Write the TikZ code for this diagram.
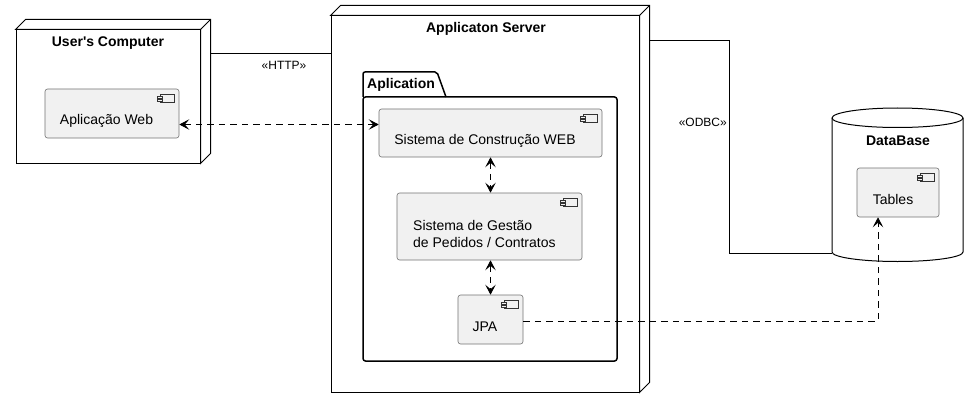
\documentclass[tikz,border=0pt]{standalone}
\usepackage{fontspec}
\setmainfont{Liberation Sans}
\usetikzlibrary{arrows.meta}
\definecolor{compfill}{HTML}{F1F1F1}
\tikzset{x=1pt,y=-1pt,
 comp/.style={draw=black!55, fill=compfill, line width=0.6pt, rounded corners=2.5pt, inner sep=0},
 nodebox/.style={draw, line width=1pt, fill=white, inner sep=0},
 ttl/.style={font=\fontsize{14}{16}\selectfont\bfseries, inner sep=0},
 txt/.style={font=\fontsize{14}{17}\selectfont, inner sep=0},
 ster/.style={font=\fontsize{12}{14}\selectfont, inner sep=0},
 dep/.style={line width=0.9pt, dash pattern=on 6.5pt off 5pt},
 link/.style={line width=1pt},
 icon/.style={draw=black!80, fill=compfill, line width=0.6pt}
}
\newcommand\tipx{Stealth[length=10pt,width=10.5pt,inset=4.5pt]}
\newcommand\compicon[1]{%
  \draw[icon] ([xshift=-19.5pt,yshift=-5.5pt]#1.north east) rectangle ++(14pt,-8.5pt);
  \draw[icon] ([xshift=-22pt,yshift=-7.5pt]#1.north east) rectangle ++(4.5pt,-2pt);
  \draw[icon] ([xshift=-22pt,yshift=-10.5pt]#1.north east) rectangle ++(4.5pt,-2pt);
}
\newcommand\threed[1]{%
  \draw[line width=1pt, fill=white] (#1.north west) -- ++(10pt,10pt) -| ([xshift=10pt,yshift=10pt]#1.south east) -- (#1.south east) -- (#1.north east) -- cycle;
  \draw[line width=1pt] (#1.north east) -- ++(10pt,10pt);
}
\begin{document}
\begin{tikzpicture}
\useasboundingbox (0,0) rectangle (979,409);
\fill[white] (0,0) rectangle (979,409);

% User's computer
\node[nodebox, minimum width=184pt, minimum height=133pt] (uc) at (108,96.5) {};
\threed{uc}
\node[ttl] (uct) at (108,43) {User\textquotesingle s Computer};
\node[comp, minimum width=134pt, minimum height=49pt] (aw) at (112,113.5) {};
\compicon{aw}
\node[txt] (awt) at (106.5,121) {Aplicação Web};

% Application server
\node[nodebox, minimum width=308pt, minimum height=376pt] (srv) at (485,204) {};
\threed{srv}
\node[ttl] (srvt) at (486,29) {Applicaton Server};

% Package
\draw[line width=1.5pt, fill=white, rounded corners=2pt] (363,97) -- (363,72) -- (437,72) -- (446,97);
\node[draw, line width=1.5pt, rounded corners=2.5pt, minimum width=254pt, minimum height=264pt, inner sep=0] (pkg) at (490,229) {};
\node[ttl, anchor=west] (pkgt) at (367,85) {Aplication};

\node[comp, minimum width=223pt, minimum height=48pt] (web) at (490.5,133) {};
\compicon{web}
\node[txt] (webt) at (485,141) {Sistema de Construção WEB};

\node[comp, minimum width=185pt, minimum height=67pt] (ges) at (489.5,226.5) {};
\compicon{ges}
\node[txt, anchor=west, align=left] (gest) at (413,233.5) {Sistema de Gestão\\de Pedidos / Contratos};

\node[comp, minimum width=65pt, minimum height=49pt] (jpa) at (490.5,319.5) {};
\compicon{jpa}
\node[txt] (jpat) at (485,327) {JPA};

% Database cylinder
\node[inner sep=0, minimum width=131pt, minimum height=154pt] (db) at (897.5,185) {};
\draw[line width=1pt, fill=white] (832,118) -- (832,252) arc[start angle=180,end angle=360,x radius=65.5pt,y radius=9.5pt] -- (963,118) arc[start angle=0,end angle=180,x radius=65.5pt,y radius=10pt] -- cycle;
\draw[line width=1pt] (832,118) arc[start angle=180,end angle=360,x radius=65.5pt,y radius=9.5pt];
\node[ttl] (dbt) at (898,140.5) {DataBase};
\node[comp, minimum width=82pt, minimum height=49pt] (tab) at (898,192.5) {};
\compicon{tab}
\node[txt] (tabt) at (893,199.5) {Tables};

% connectors
\coordinate (ucr) at (210,54);
\draw[link] (ucr) -- (srv.west |- ucr);
\node[ster] (http) at (284,65) {«HTTP»};

\coordinate (srvr) at (649,41);
\coordinate (odbcb) at (729,253);
\draw[link] (srvr) -| (odbcb) -- (db.west |- odbcb);
\node[ster, anchor=east] (odbc) at (727,122) {«ODBC»};

\coordinate (awy) at (0,124.5);
\draw[dep, {\tipx}-{\tipx}] (aw.east |- awy) -- (web.west |- awy);
\draw[dep, {\tipx}-{\tipx}] (web.south) -- (web.south |- ges.north);
\draw[dep, {\tipx}-{\tipx}] (ges.south -| jpa.north) -- (jpa.north);
\coordinate (jpay) at (0,321);
\coordinate (tabx) at (878,0);
\draw[dep, -{\tipx}] (jpa.east |- jpay) -| (tabx |- tab.south);
\end{tikzpicture}
\end{document}
